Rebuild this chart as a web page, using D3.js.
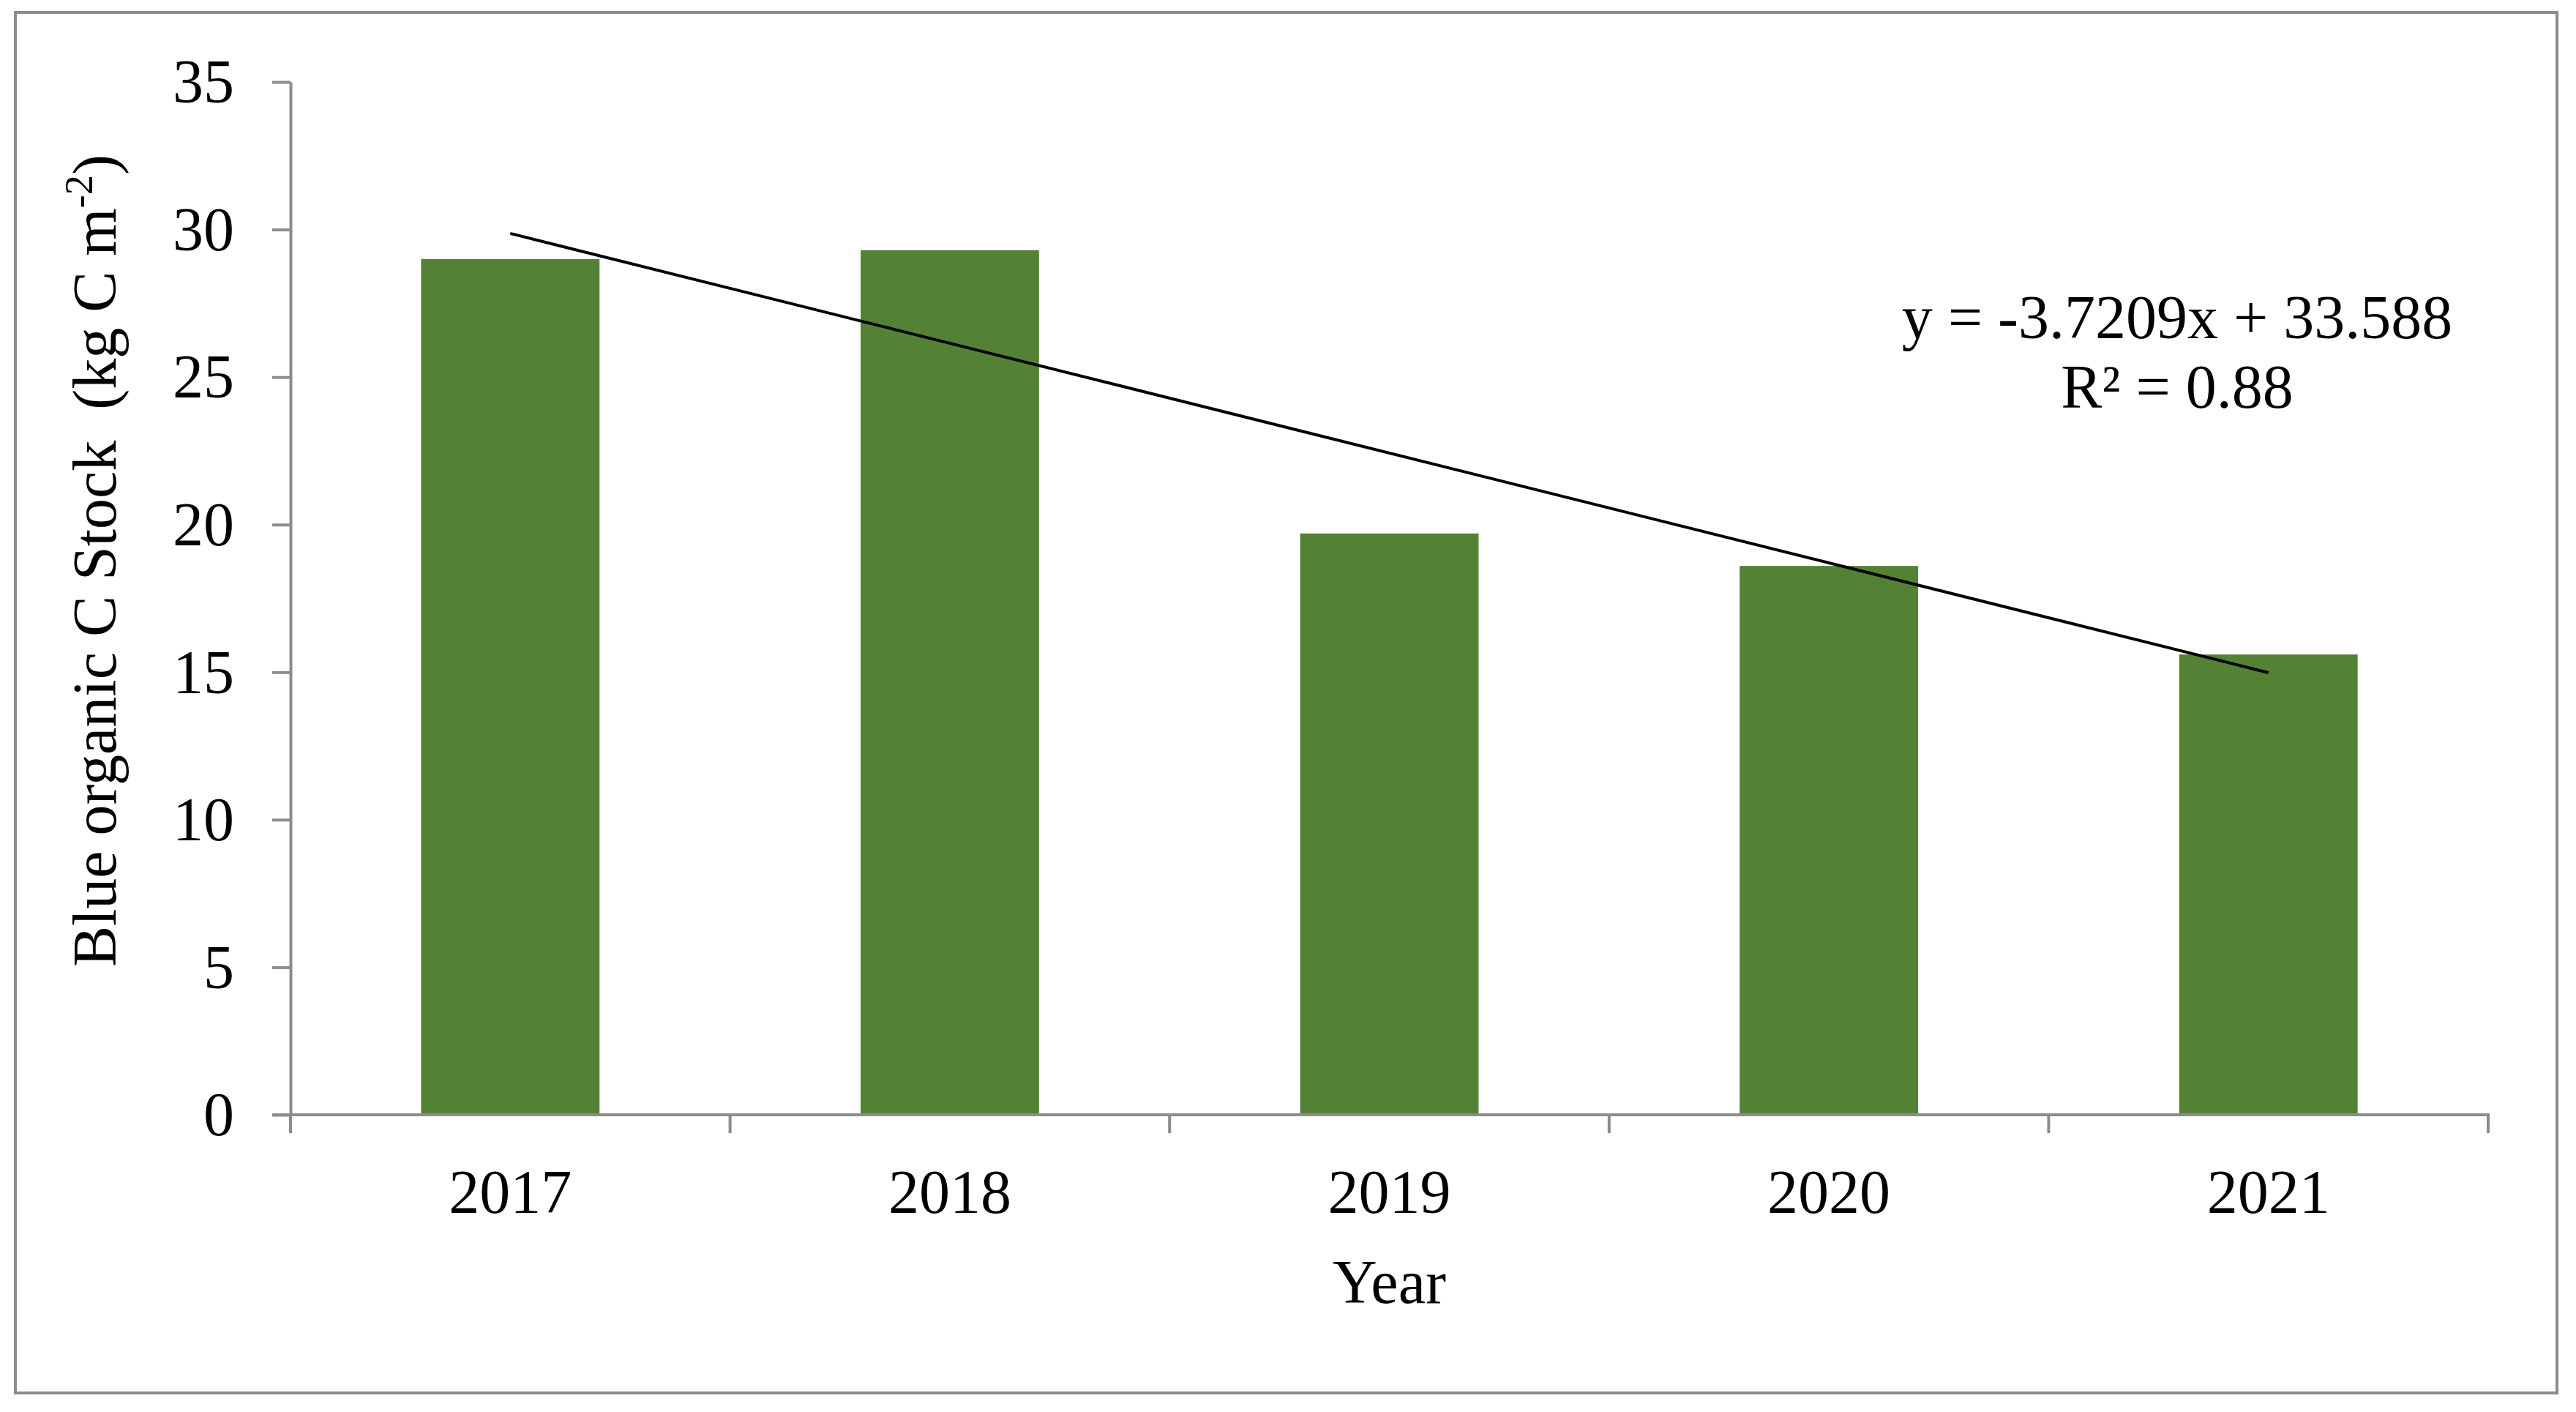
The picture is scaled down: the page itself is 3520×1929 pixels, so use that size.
<!DOCTYPE html>
<html>
<head>
<meta charset="utf-8">
<script src="https://cdn.jsdelivr.net/npm/d3@7"></script>
<style>
  html, body { margin: 0; padding: 0; background: #fff; }
  svg { display: block; }
  text { font-family: "Liberation Serif", "Times New Roman", serif; fill: #000; }
</style>
</head>
<body>
<script>
// ---- data ----
const years = ["2017", "2018", "2019", "2020", "2021"];
const stock = [29.0, 29.3, 19.7, 18.6, 15.6];
const yTicks = [0, 5, 10, 15, 20, 25, 30, 35];
const trendSlope = -3.7209;
const trendIntercept = 33.588;
const trendR2 = "0.88";
const yTitleMain = "Blue organic C Stock  (kg C m";
const yTitleSup = "-2";
const xTitle = "Year";

// ---- layout ----
const W = 3520, H = 1929;
const plot = { left: 397, right: 3400, top: 112, bottom: 1523 };
const axisColor = "#8c8c8c";
const barColor = "#548235";
const fs = 84;

const svg = d3.select("body").append("svg").attr("width", W).attr("height", H);

// outer border
svg.append("rect")
  .attr("x", 21).attr("y", 17).attr("width", 3494 - 21).attr("height", 1903 - 17)
  .attr("fill", "#fff").attr("stroke", axisColor).attr("stroke-width", 4);

const x = d3.scaleBand().domain(years).range([plot.left, plot.right]).paddingInner(0.594).paddingOuter(0.297);
const xCat = d3.scaleBand().domain(years).range([plot.left, plot.right]).padding(0);
const y = d3.scaleLinear().domain([0, 35]).range([plot.bottom, plot.top]);

// bars
svg.append("g").selectAll("rect").data(years).join("rect")
  .attr("x", d => x(d))
  .attr("width", x.bandwidth())
  .attr("y", (d, i) => y(stock[i]))
  .attr("height", (d, i) => y(0) - y(stock[i]))
  .attr("fill", barColor);

// y axis
const yAxis = d3.axisLeft(y).tickValues(yTicks).tickSize(25).tickPadding(52).tickSizeOuter(0);
const gy = svg.append("g").attr("transform", `translate(${plot.left},0)`).call(yAxis);
gy.select(".domain").attr("stroke", axisColor).attr("stroke-width", 4);
gy.selectAll(".tick line").attr("stroke", axisColor).attr("stroke-width", 4);
gy.selectAll(".tick text").attr("font-size", fs).attr("font-family", "Liberation Serif").attr("dy", "0.33em");

// x axis line
svg.append("line")
  .attr("x1", plot.left - 25).attr("x2", plot.right + 2)
  .attr("y1", plot.bottom).attr("y2", plot.bottom)
  .attr("stroke", axisColor).attr("stroke-width", 4);

// category boundary ticks
const bounds = years.map(d => xCat(d)).concat([xCat(years[years.length - 1]) + xCat.bandwidth()]);
svg.append("g").selectAll("line").data(bounds).join("line")
  .attr("x1", d => d).attr("x2", d => d)
  .attr("y1", plot.bottom).attr("y2", plot.bottom + 25)
  .attr("stroke", axisColor).attr("stroke-width", 4);

// x labels
svg.append("g").selectAll("text").data(years).join("text")
  .attr("x", d => xCat(d) + xCat.bandwidth() / 2)
  .attr("y", 1657)
  .attr("text-anchor", "middle")
  .attr("font-size", fs)
  .text(d => d);

// trendline
const trendPts = years.map((d, i) => [x(d) + x.bandwidth() / 2, y(trendSlope * (i + 1) + trendIntercept)]);
svg.append("line")
  .attr("x1", trendPts[0][0]).attr("y1", trendPts[0][1])
  .attr("x2", trendPts[trendPts.length - 1][0]).attr("y2", trendPts[trendPts.length - 1][1])
  .attr("stroke", "#000").attr("stroke-width", 4);

// equation
svg.append("text")
  .attr("x", 2975).attr("y", 462)
  .attr("text-anchor", "middle").attr("font-size", fs)
  .text(`y = ${trendSlope}x + ${trendIntercept}`);
svg.append("text")
  .attr("x", 2975).attr("y", 557)
  .attr("text-anchor", "middle").attr("font-size", fs)
  .text(`R² = ${trendR2}`);

// axis titles
svg.append("text")
  .attr("x", (plot.left + plot.right) / 2).attr("y", 1780)
  .attr("text-anchor", "middle").attr("font-size", fs)
  .text(xTitle);

const yt = svg.append("text")
  .attr("transform", "translate(158,766) rotate(-90)")
  .attr("text-anchor", "middle").attr("font-size", fs)
  .attr("xml:space", "preserve")
  .style("white-space", "pre");
yt.append("tspan").text(yTitleMain);
yt.append("tspan").attr("font-size", fs * 0.65).attr("dy", -fs * 0.38).text(yTitleSup);
yt.append("tspan").attr("dy", fs * 0.38).text(")");
</script>
</body>
</html>
